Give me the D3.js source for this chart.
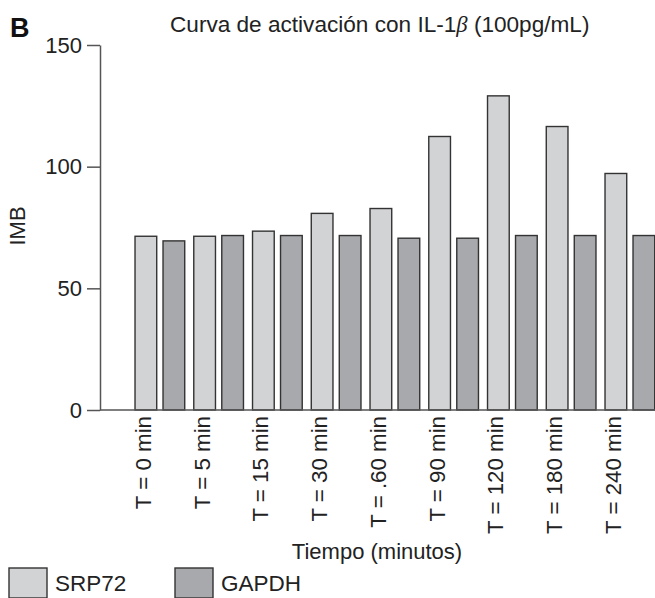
<!DOCTYPE html>
<html>
<head>
<meta charset="utf-8">
<script src="https://cdnjs.cloudflare.com/ajax/libs/d3/7.8.5/d3.min.js"></script>
<style>
  body { margin: 0; background: #fff; }
  svg { display: block; font-family: "Liberation Sans", Arial, sans-serif; }
</style>
</head>
<body>
<div id="chart"></div>
<script>
// data
var times = ["T = 0 min", "T = 5 min", "T = 15 min", "T = 30 min", "T = .60 min",
             "T = 90 min", "T = 120 min", "T = 180 min", "T = 240 min"];
var series = ["SRP72", "GAPDH"];
var srp72 = [71.4, 71.4, 73.5, 80.8, 82.8, 112.4, 129.1, 116.5, 97.2];
var gapdh = [69.5, 71.7, 71.7, 71.7, 70.6, 70.6, 71.7, 71.7, 71.7];
var yTicks = [0, 50, 100, 150];

var colors = { SRP72: "#d2d3d5", GAPDH: "#a8a9ac" };

var width = 655,
    height = 598;

var svg = d3.select("#chart")
    .append("svg")
    .attr("width", width)
    .attr("height", height);

var rows = times.map(function(t, i) {
    return { time: t, SRP72: srp72[i], GAPDH: gapdh[i] };
});

var y = d3.scaleLinear()
    .domain([0, 150])
    .range([410, 45]);

var x0 = d3.scaleBand()
    .domain(times)
    .range([130.5, 659.25])
    .paddingInner(0.154)
    .paddingOuter(0.077);

var x1 = d3.scaleBand()
    .domain(series)
    .range([0, x0.bandwidth()])
    .paddingInner(0.225);

// bars
var groups = svg.selectAll("g.grp")
    .data(rows)
    .enter().append("g")
    .attr("class", "grp")
    .attr("transform", function(d) {
        return "translate(" + x0(d.time) + ",0)";
    });

groups.selectAll("rect")
    .data(function(d) {
        return series.map(function(s) {
            return { key: s, value: d[s] };
        });
    })
    .enter().append("rect")
    .attr("x", function(d) { return x1(d.key); })
    .attr("y", function(d) { return y(d.value); })
    .attr("width", x1.bandwidth())
    .attr("height", function(d) { return y(0) - y(d.value); })
    .style("fill", function(d) { return colors[d.key]; })
    .style("stroke", "#333")
    .style("stroke-width", 1.4);

// y axis
var yAxis = svg.append("g")
    .attr("transform", "translate(100,0)")
    .call(d3.axisLeft(y)
        .tickValues(yTicks)
        .tickSize(13)
        .tickSizeOuter(0)
        .tickPadding(5));

yAxis.selectAll("path, line")
    .style("stroke", "#555")
    .style("stroke-width", 1.5);
yAxis.selectAll("text")
    .style("font-size", "22px")
    .style("fill", "#222")
    .style("font-family", "Liberation Sans, Arial, sans-serif");

// x baseline
svg.append("line")
    .attr("x1", 100)
    .attr("x2", width)
    .attr("y1", y(0))
    .attr("y2", y(0))
    .style("stroke", "#555")
    .style("stroke-width", 1.5);

// x tick labels, rotated, centred under the SRP72 bar
svg.selectAll("text.xlab")
    .data(times)
    .enter().append("text")
    .attr("class", "xlab")
    .attr("transform", function(d) {
        var cx = x0(d) + x1("SRP72") + x1.bandwidth() / 2 + 5;
        return "translate(" + cx + ",416) rotate(-90)";
    })
    .attr("text-anchor", "end")
    .style("font-size", "22.3px")
    .style("fill", "#222")
    .text(function(d) { return d; });

// axis titles
svg.append("text")
    .attr("x", 377)
    .attr("y", 559)
    .attr("text-anchor", "middle")
    .style("font-size", "22px")
    .style("fill", "#222")
    .text("Tiempo (minutos)");

svg.append("text")
    .attr("transform", "translate(25,226) rotate(-90)")
    .attr("text-anchor", "middle")
    .style("font-size", "22px")
    .style("fill", "#222")
    .text("IMB");

// title
var title = svg.append("text")
    .attr("x", 170)
    .attr("y", 32)
    .style("font-size", "22.6px")
    .style("fill", "#222");
title.append("tspan").text("Curva de activación con IL-1");
title.append("tspan")
    .style("font-family", "Liberation Serif, serif")
    .style("font-style", "italic")
    .text("β");
title.append("tspan").text(" (100pg/mL)");

svg.append("text")
    .attr("x", 10)
    .attr("y", 37)
    .style("font-size", "27px")
    .style("font-weight", "bold")
    .style("fill", "#111")
    .text("B");

// legend
var legendX = [9, 175];
var legend = svg.selectAll("g.leg")
    .data(series)
    .enter().append("g")
    .attr("class", "leg")
    .attr("transform", function(d, i) {
        return "translate(" + legendX[i] + ",568)";
    });

legend.append("rect")
    .attr("width", 38)
    .attr("height", 30)
    .style("fill", function(d) { return colors[d]; })
    .style("stroke", "#333")
    .style("stroke-width", 1.4);

legend.append("text")
    .attr("x", 46)
    .attr("y", 23)
    .style("font-size", "22.5px")
    .style("fill", "#222")
    .text(function(d) { return d; });
</script>
</body>
</html>
